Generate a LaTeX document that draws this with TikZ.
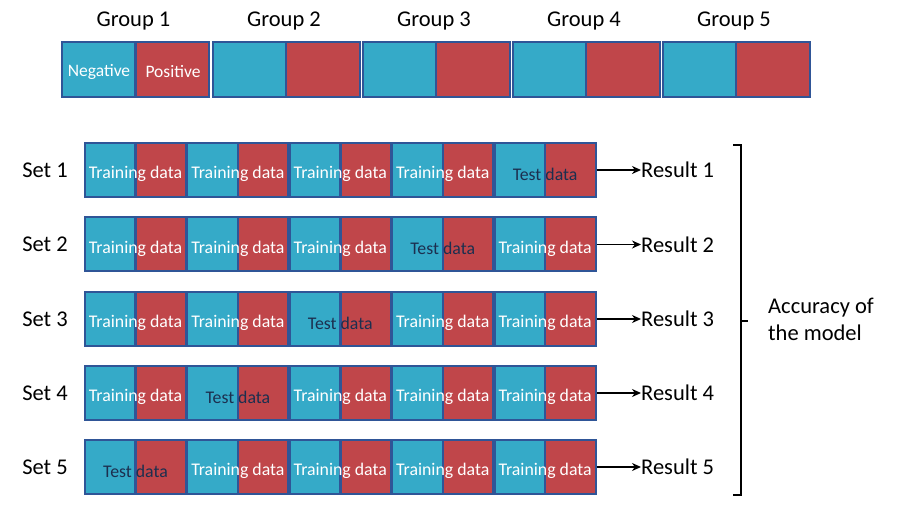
\documentclass[tikz,border=0pt]{standalone}
\usepackage{fontspec}
\setmainfont{Carlito}
\usetikzlibrary{arrows.meta}
\definecolor{cvblue}{HTML}{35AAC8}
\definecolor{cvred}{HTML}{C0464A}
\definecolor{cvedge}{HTML}{2F5597}
\definecolor{cvnavy}{HTML}{1C2F4F}
\tikzset{
  foldbox/.style={draw=cvedge, line width=2pt, fill=cvred, inner sep=0pt,
    path picture={
      \fill[cvblue] (path picture bounding box.north west) rectangle (path picture bounding box.south);
      \draw[cvedge, line width=2.4pt] (path picture bounding box.north) -- (path picture bounding box.south);
    }},
  groupbox/.style={foldbox, minimum width=147pt, minimum height=55pt},
  setbox/.style={foldbox, minimum width=101pt, minimum height=54pt},
  boxtext/.style={font=\fontsize{17.8}{20}\selectfont, inner sep=0pt, yshift=-4pt},
  traintext/.style={boxtext, text=white},
  testtext/.style={boxtext, text=cvnavy},
  biglabel/.style={font=\fontsize{22.5}{27}\selectfont, text=black, inner sep=0pt},
  smalllabel/.style={font=\fontsize{17.5}{20}\selectfont, text=white, inner sep=0pt},
  resarrow/.style={-{Stealth[length=9pt,width=8pt]}, line width=1.8pt, black},
  bracket/.style={line width=2pt, black}
}
\begin{document}
\begin{tikzpicture}[x=1pt,y=-1pt]
\useasboundingbox (0,0) rectangle (900,510);
\fill[white] (0,0) rectangle (900,510);
% top groups
\foreach \g/\xc in {1/135.5,2/286,3/436,4/586,5/736} {
  \node[groupbox] (grp\g) at (\xc,69.5) {};
  \node[biglabel] (glab\g) at (\xc-2,21) {Group \g};
}
\node[smalllabel] (neg) at (99,72) {Negative};
\node[smalllabel] (pos) at (173,72) {Positive};
% sets
\foreach \r/\yc in {1/170,2/244.5,3/319,4/393,5/467} {
  \node[biglabel] (setlab\r) at (45,\yc) {Set \r};
  \pgfmathtruncatemacro{\testcol}{6-\r}
  \foreach \c in {1,...,5} {
    \pgfmathsetmacro{\xc}{135.5+102.4*(\c-1)}
    \ifnum\c=\testcol
      \node[setbox, label={[testtext]center:Test data}] (b\r\c) at (\xc,\yc) {};
    \else
      \node[setbox, label={[traintext]center:Training data}] (b\r\c) at (\xc,\yc) {};
    \fi
  }
  \node[biglabel, anchor=west] (res\r) at (641,\yc) {Result \r};
  \draw[resarrow] (b\r5.east) -- (res\r.west);
}
% bracket
\coordinate (bt) at (741,145);
\coordinate (bb) at (741,495);
\coordinate (bm) at (741,321);
\draw[bracket] (733,145) -- (bt) -- (bb) -- (733,495);
\draw[bracket] (bm) -- (748,321);
\node[biglabel, anchor=west, align=left] (acc) at (768,319) {Accuracy of\\the model};
\end{tikzpicture}
\end{document}
